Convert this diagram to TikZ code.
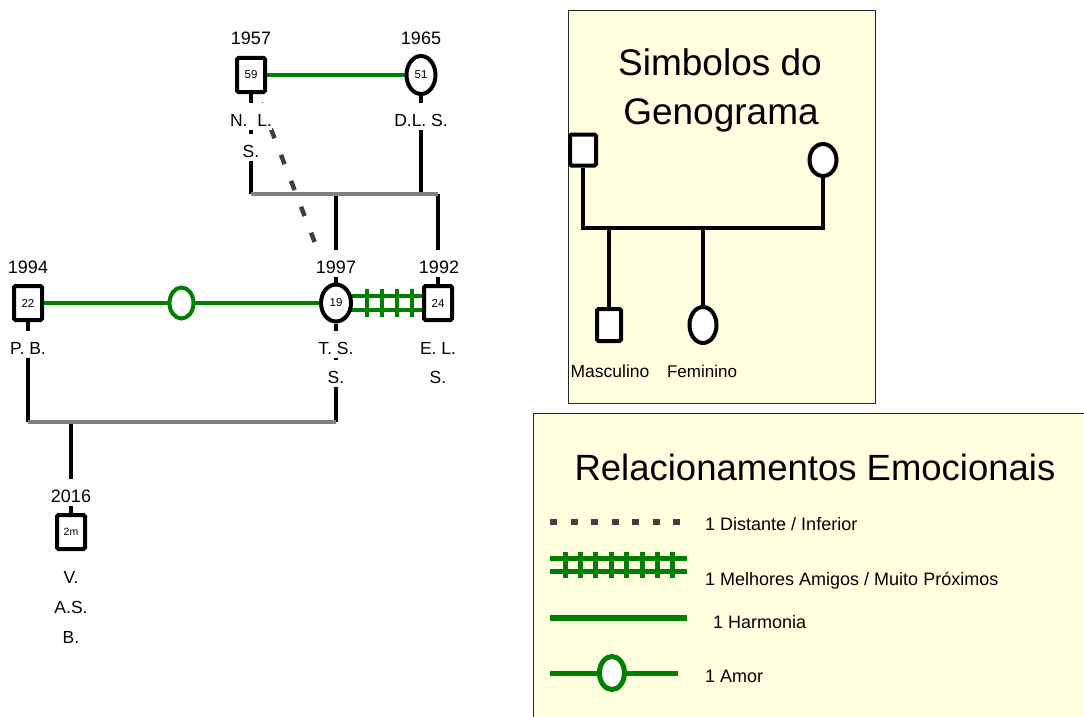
\documentclass[tikz,border=0pt]{standalone}
\usepackage{fontspec}
\setmainfont{Liberation Sans}
\usetikzlibrary{shapes.geometric,calc}
\pgfdeclarelayer{back}
\pgfdeclarelayer{lines}
\pgfsetlayers{back,lines,main}
\definecolor{relgreen}{RGB}{0,128,0}
\definecolor{distgray}{RGB}{64,64,64}
\definecolor{sibgray}{RGB}{128,128,128}
\definecolor{keyfill}{RGB}{255,255,224}
\newcommand\genfont[1]{\fontsize{#1}{#1}\selectfont}

\begin{document}
\begin{tikzpicture}[x=1pt,y=-1pt,
  male/.style={rectangle, draw=black, line width=4pt, fill=white, rounded corners=1.5pt,
    inner sep=0pt, minimum width=28pt, minimum height=34pt, font=\genfont{11.5}},
  female/.style={ellipse, draw=black, line width=4pt, fill=white, inner sep=0pt,
    minimum width=29pt, minimum height=38pt, font=\genfont{11.5}},
  lbl/.style={fill=white, inner sep=0pt, text height=23pt, text depth=3.5pt,
    anchor=base, font=\genfont{17.5}},
  yearlbl/.style={lbl, font=\genfont{18}},
  keytext/.style={inner sep=0pt, anchor=base west, font=\genfont{18}},
  symtext/.style={inner sep=0pt, anchor=base, font=\genfont{17}},
  title/.style={inner sep=0pt, anchor=base, font=\genfont{37}},
  kin/.style={draw=black, line width=4pt},
  sibling/.style={draw=sibgray, line width=4pt},
  harmony/.style={draw=relgreen, line width=4pt},
  loveknot/.style={ellipse, draw=relgreen, line width=4pt, fill=white, inner sep=0pt,
    minimum width=24pt, minimum height=31pt},
  distant/.style={draw=distgray, line width=4.5pt, dash pattern=on 10pt off 17.8pt,
    dash phase=22.45pt},
  closetick/.style={draw=relgreen, line width=4pt},
  keybox/.style={draw=black!85, line width=1pt, fill=keyfill},
  keyline/.style={draw=relgreen, line width=5.5pt},
  keydistant/.style={draw=distgray, line width=6pt, dash pattern=on 7pt off 13.5pt},
]
\useasboundingbox (0,0) rectangle (1084,717);

% ---------- key panels ----------
\begin{pgfonlayer}{back}
  \path[keybox] (568,11) rectangle (875,403);
  \path[keybox] (533,413) rectangle (1095,730);
\end{pgfonlayer}

% ---------- people ----------
\node[male]   (n59) at (251,75)  {59};
\node[female] (n51) at (421,75)  {51};
\node[male]   (n22) at (28,303)  {22};
\node[female, minimum width=30pt, minimum height=37pt] (n19) at (336,303) {19};
\node[male]   (n24) at (438,303) {24};
\node[male, font=\genfont{10.5}] (n2m) at (71,532) {2m};

\coordinate (bar1L) at (251,194);
\coordinate (bar1M) at (336,194);
\coordinate (bar1D) at (421,194);
\coordinate (bar1R) at (438,194);
\coordinate (bar2L) at (28,422);
\coordinate (bar2M) at (71,422);
\coordinate (bar2R) at (336,422);

% ---------- family lines and relationships ----------
\begin{pgfonlayer}{lines}
  % distant relationship
  \draw[distant] ($(n59.south)+(8,4)$) -- ($(n19.north)+(-8,-6)$);
  % couple 1957 / 1965 and their children
  \draw[kin] (n59) -- (bar1L);
  \draw[kin] (n51) -- (bar1D);
  \draw[kin] (bar1M) -- (n19);
  \draw[kin] (bar1R) -- (n24);
  \draw[sibling] (bar1L) -- (bar1R);
  % couple 1994 / 1997 and their child
  \draw[kin] (n22) -- (bar2L);
  \draw[kin] (n19) -- (bar2R);
  \draw[kin] (bar2M) -- (n2m);
  \draw[sibling] (bar2L) -- (bar2R);
  % harmony
  \draw[harmony] (n59) -- (n51);
  % love
  \draw[harmony] (n22) -- node[loveknot] (knot) {} (n19);
  % best friends / very close
  \draw[harmony] ($(n19.center)+(0,-7)$) -- ($(n24.center)+(0,-7)$);
  \draw[harmony] ($(n19.center)+(0,7)$) -- ($(n24.center)+(0,7)$);
  \foreach \x in {367,382,397,412}
    \draw[closetick] (\x,289) -- (\x,317);
\end{pgfonlayer}

% ---------- years and names ----------
\node[yearlbl] (y59) at (251,45)  {1957};
\node[yearlbl] (y51) at (421,45)  {1965};
\node[yearlbl] (y22) at (28,273)  {1994};
\node[yearlbl] (y19) at (336,273) {1997};
\node[yearlbl] (y24) at (439,273) {1992};
\node[yearlbl] (y2m) at (71,502)  {2016};

\node[lbl] (nm59a) at (251,126) {N.\ \ L.};
\node[lbl] (nm59b) at (251,157) {S.};
\node[lbl] (nm51)  at (421,126) {D.L. S.};
\node[lbl] (nm22)  at (28,354)  {P. B.};
\node[lbl] (nm19a) at (336,354) {T. S.};
\node[lbl] (nm19b) at (336,383) {S.};
\node[lbl] (nm24a) at (438,354) {E. L.};
\node[lbl] (nm24b) at (438,383) {S.};
\node[lbl] (nm2ma) at (71,583)  {V.};
\node[lbl] (nm2mb) at (71,613)  {A.S.};
\node[lbl] (nm2mc) at (71,643)  {B.};

% ---------- key: genogram symbols ----------
\node[title] (symt1) at (720,76)  {Simbolos do};
\node[title] (symt2) at (721,124) {Genograma};

\node[male, minimum width=26pt, minimum height=31pt]   (ksq)  at (583,150) {};
\node[female, minimum width=27pt, minimum height=32pt] (kcir) at (823,160) {};
\node[male, minimum width=24pt, minimum height=32pt]   (kson) at (609,325) {};
\node[female, minimum width=27pt, minimum height=36pt] (kdau) at (703,325) {};
\coordinate (kbarL) at (583,228);
\coordinate (kbarR) at (823,228);
\coordinate (kbarS) at (609,228);
\coordinate (kbarD) at (703,228);
\begin{pgfonlayer}{lines}
  \draw[kin] (ksq) -- (kbarL) -- (kbarR) -- (kcir);
  \draw[kin] (kbarS) -- (kson);
  \draw[kin] (kbarD) -- (kdau);
\end{pgfonlayer}
\node[symtext, font=\genfont{17.5}] (kmasc) at (610,377) {Masculino};
\node[symtext] (kfem) at (702,377) {Feminino};

% ---------- key: emotional relationships ----------
\node[title, font=\genfont{36.5}] (relt) at (815,480) {Relacionamentos Emocionais};

\coordinate (kdA) at (550,521.5);  \coordinate (kdB) at (681,521.5);
\draw[keydistant] (kdA) -- (kdB);
\node[keytext] (kdt) at (705,530) {1 Distante / Inferior};

\coordinate (kfA1) at (550,558); \coordinate (kfB1) at (687,558);
\coordinate (kfA2) at (550,571); \coordinate (kfB2) at (687,571);
\draw[keyline, line width=5pt] (kfA1) -- (kfB1);
\draw[keyline, line width=5pt] (kfA2) -- (kfB2);
\foreach \k in {0,...,7}
  \draw[closetick, line width=5pt] ({565+15.4*\k},552) -- ({565+15.4*\k},578);
\node[keytext] (kft) at (705,585) {1 Melhores Amigos / Muito Próximos};

\coordinate (khA) at (550,618); \coordinate (khB) at (687,618);
\draw[keyline] (khA) -- (khB);
\node[keytext] (kht) at (713,628) {1 Harmonia};

\coordinate (klA) at (550,673); \coordinate (klB) at (678,673);
\draw[keyline, line width=5pt] (klA) -- node[pos=0.484, loveknot, line width=5pt,
  minimum width=25pt, minimum height=33pt] (kknot) {} (klB);
\node[keytext] (klt) at (705,682) {1 Amor};
\end{tikzpicture}
\end{document}
